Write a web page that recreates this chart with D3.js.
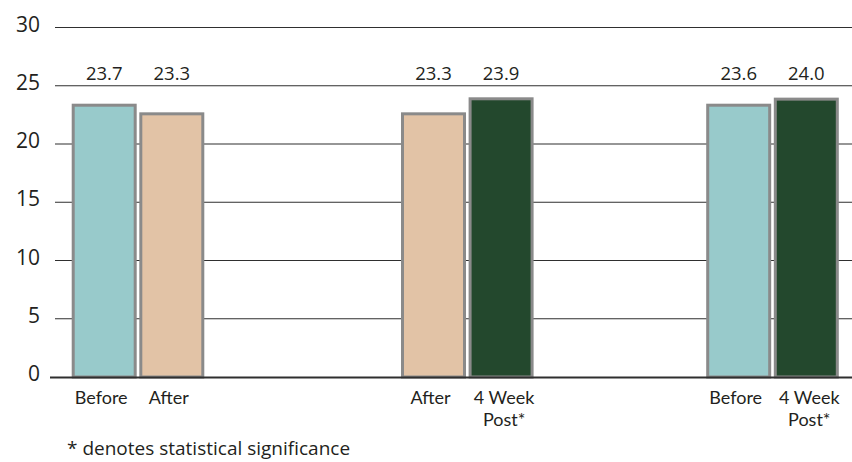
<!DOCTYPE html>
<html>
<head>
<meta charset="utf-8">
<script src="https://cdn.jsdelivr.net/npm/d3@7"></script>
<style>
  html, body { margin: 0; padding: 0; background: #ffffff; }
  svg { display: block; }
  text { font-family: "Open Sans", "Noto Sans", sans-serif; fill: #231f20; }
  .cat { font-family: Lato, "Open Sans", sans-serif; }
</style>
</head>
<body>
<svg id="chart" width="852" height="462"></svg>
<script>
// ---- data ----
const groups = ["Before/After", "After/4 Week Post", "Before/4 Week Post"];
const barCategories = [["Before", "After"], ["After", "4 Week|Post*"], ["Before", "4 Week|Post*"]];
const barKinds = [["before", "after"], ["after", "post"], ["before", "post"]];
const barValues = [[23.33, 22.59], [22.59, 23.88], [23.33, 23.85]];
const valueLabels = [["23.7", "23.3"], ["23.3", "23.9"], ["23.6", "24.0"]];
const yTicks = [0, 5, 10, 15, 20, 25, 30];
const footnote = "* denotes statistical significance";

// ---- styles ----
const colors = { before: "#98cacb", after: "#e2c3a6", post: "#23482d" };

const svg = d3.select("#chart");
const W = 852;

const y = d3.scaleLinear().domain([0, 30]).range([377, 27.5]);
const xGroup = d3.scaleOrdinal().domain(groups).range([138, 467.3, 772.5]);
const xBar = d3.scaleBand().domain([0, 1]).range([-67.6, 67.6])
  .paddingInner(0.083).paddingOuter(0.0415);

// gridlines
svg.append("g").selectAll("line")
  .data(yTicks.filter(t => t > 0))
  .join("line")
  .attr("x1", 55).attr("x2", W)
  .attr("y1", d => y(d)).attr("y2", d => y(d))
  .attr("stroke", "#2f2f2f").attr("stroke-width", 1.2);

// y tick labels
svg.append("g").selectAll("text")
  .data(yTicks)
  .join("text")
  .attr("x", 40).attr("y", d => y(d) + 4)
  .attr("text-anchor", "end")
  .attr("font-size", 21)
  .text(d => d);

// flatten bars
const bars = [];
groups.forEach((g, gi) => {
  barValues[gi].forEach((v, bi) => {
    bars.push({ g, bi, v, kind: barKinds[gi][bi], cat: barCategories[gi][bi], lab: valueLabels[gi][bi] });
  });
});
const bx = d => xGroup(d.g) + xBar(d.bi);

// bars
svg.append("g").selectAll("rect")
  .data(bars)
  .join("rect")
  .attr("x", d => bx(d))
  .attr("y", d => y(d.v))
  .attr("width", xBar.bandwidth())
  .attr("height", d => y(0) - y(d.v))
  .attr("fill", d => colors[d.kind])
  .attr("stroke", "#8a8a8a")
  .attr("stroke-width", 3);

// axis baseline
svg.append("line")
  .attr("x1", 50).attr("x2", W)
  .attr("y1", y(0) + 0.5).attr("y2", y(0) + 0.5)
  .attr("stroke", "#2f2f2f").attr("stroke-width", 2);

// value labels
svg.append("g").selectAll("text")
  .data(bars)
  .join("text")
  .attr("x", d => bx(d) + xBar.bandwidth() / 2)
  .attr("y", 80)
  .attr("text-anchor", "middle")
  .attr("font-size", 18.5)
  .text(d => d.lab);

// category labels (one text per line)
const catLines = [];
bars.forEach(d => {
  const lines = d.cat.split("|");
  lines.forEach((ln, i) => catLines.push({ d, ln, i, multi: lines.length > 1 }));
});
svg.append("g").selectAll("text")
  .data(catLines)
  .join("text")
  .attr("class", "cat")
  .attr("x", c => bx(c.d) + xBar.bandwidth() / 2 + (c.multi ? 3 : -3))
  .attr("y", c => 404 + c.i * 21.8)
  .attr("text-anchor", "middle")
  .attr("font-size", 18)
  .text(c => c.ln);

// footnote
svg.append("text")
  .attr("x", 67).attr("y", 455)
  .attr("font-size", 19)
  .text(footnote);
</script>
</body>
</html>
